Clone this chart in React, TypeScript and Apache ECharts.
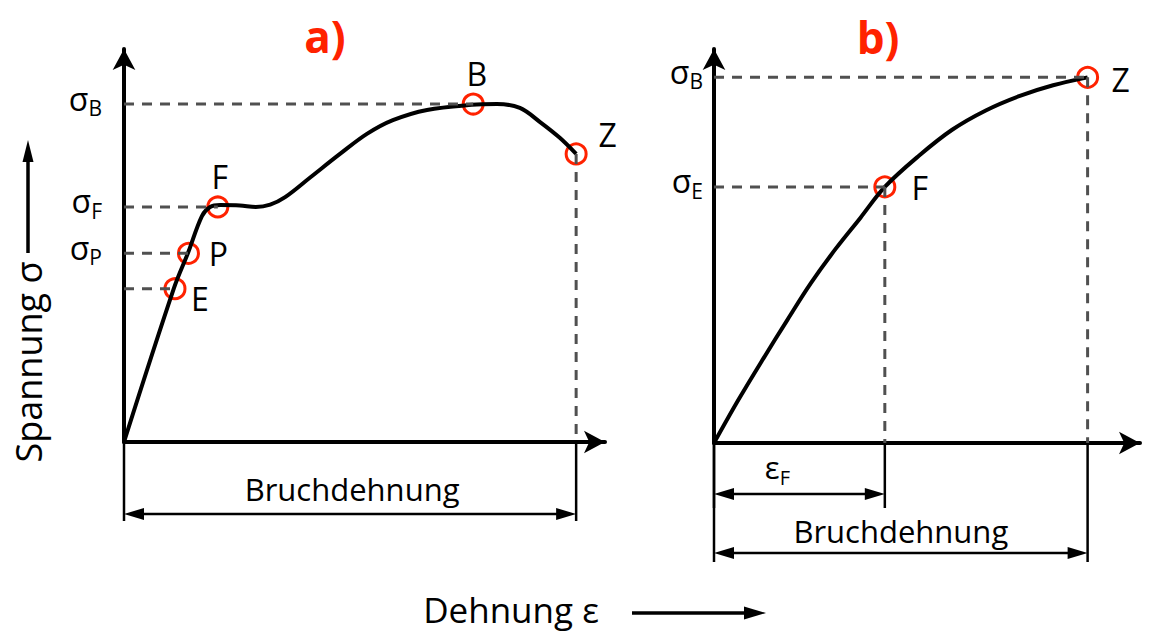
import React, { useEffect, useRef } from 'react';
import * as echarts from 'echarts';

const RED = '#ff2200';
const INK = '#000000';
const GUIDE = '#505050';
const FONT = '"Open Sans", "DejaVu Sans", sans-serif';

// a) Werkstoff mit ausgeprägter Streckgrenze (Dehnung / Spannung in relativen Einheiten)
const curveA: [number, number][] = [
  [0, 0], [10.4, 39.2], [13.3, 48.1], [16.2, 57.5], [17.9, 59.8], [20.0, 60.3],
  [24.1, 60.2], [27.4, 59.8], [30.4, 60.4], [33.5, 62.3], [38.7, 67.3], [44.9, 73.3],
  [50.5, 78.4], [55.9, 81.9], [63.0, 84.5], [72.3, 85.8], [77.5, 86.0], [82.3, 85.0],
  [86.5, 81.4], [90.6, 77.4], [94.0, 73.3],
];
const pointNamesA = ['E', 'P', 'F', 'B', 'Z'];
const pointValuesA: [number, number][] = [
  [10.6, 39.0], [13.4, 48.0], [19.5, 59.8], [72.6, 86.0], [94.0, 73.3],
];
const stressMarksA = [
  { sub: 'E', at: 'E' }, { sub: 'P', at: 'P' }, { sub: 'F', at: 'F' }, { sub: 'B', at: 'B' },
];
const dropLinesA = ['Z'];
const strainDimsA = [{ text: 'Bruchdehnung', to: 'Z' }];

// b) Werkstoff ohne ausgeprägte Streckgrenze
const curveB: [number, number][] = [
  [0, 0], [5.7, 10.9], [11.5, 21.3], [17.2, 31.2], [22.7, 40.5], [28.5, 49.2],
  [34.4, 57.2], [40.1, 65.0], [48.1, 72.9], [55.9, 79.5], [63.8, 84.4], [71.8, 88.1],
  [79.6, 90.8], [87.7, 92.8],
];
const pointNamesB = ['F', 'Z'];
const pointValuesB: [number, number][] = [[40.1, 65.0], [87.7, 92.8]];
const stressMarksB = [{ sub: 'E', at: 'F' }, { sub: 'B', at: 'Z' }];
const dropLinesB = ['F', 'Z'];
const strainDimsB = [{ text: 'ε|F', to: 'F' }, { text: 'Bruchdehnung', to: 'Z' }];

type Panel = {
  curve: [number, number][];
  names: string[];
  values: [number, number][];
  marks: { sub: string; at: string }[];
  drops: string[];
  dims: { text: string; to: string }[];
  dimLayout: { drop: number; tick: number; textDy: number; textDx: number }[];
  labelOffset: Record<string, [number, number]>;
  labelMargin: number;
};

const axisLine = {
  show: true,
  onZero: false,
  symbol: ['none', 'arrow'],
  symbolSize: [17, 21],
  lineStyle: { color: INK, width: 4 },
};

function dimText(text: string) {
  const parts = text.split('|');
  return parts.length > 1 ? `{m|${parts[0]}}{s|${parts[1]}}` : `{t|${text}}`;
}

function buildPanel(idx: number, p: Panel) {
  const at = (n: string) => p.values[p.names.indexOf(n)];
  const marks = p.marks.map((m) => ({ sub: m.sub, y: at(m.at)[1], x: at(m.at)[0] }));

  const xAxis = {
    gridIndex: idx, type: 'value', min: 0, max: 100,
    axisLine, axisTick: { show: false }, axisLabel: { show: false }, splitLine: { show: false },
  };
  const yAxis = {
    gridIndex: idx, type: 'value', min: 0, max: 100,
    axisLine, axisTick: { show: false }, splitLine: { show: false },
    axisLabel: {
      show: true,
      customValues: marks.map((m) => m.y),
      margin: p.labelMargin,
      padding: [0, 0, 12, 0],
      formatter: (v: number) => {
        const m = marks.find((k) => Math.abs(k.y - v) < 1e-6);
        return m ? `{s|σ}{sub|${m.sub}}` : '';
      },
      rich: {
        s: { fontFamily: FONT, fontSize: 32, color: INK, lineHeight: 40 },
        sub: { fontFamily: FONT, fontSize: 21, color: INK, lineHeight: 20, padding: [20, 0, 0, 0] },
      },
    },
  };

  const series: any[] = [];
  series.push({
    type: 'line', xAxisIndex: idx, yAxisIndex: idx, data: p.curve,
    smooth: 0.35, symbol: 'none', silent: true,
    lineStyle: { color: INK, width: 4 },
  });

  const guides: [number, number][][] = [
    ...marks.map((m) => [[0, m.y], [m.x, m.y]] as [number, number][]),
    ...p.drops.map((n) => [[at(n)[0], at(n)[1]], [at(n)[0], 0]] as [number, number][]),
  ];
  guides.forEach((g) => {
    series.push({
      type: 'line', xAxisIndex: idx, yAxisIndex: idx, data: g,
      symbol: 'none', silent: true,
      lineStyle: { color: GUIDE, width: 3, type: [10, 8] },
    });
  });

  series.push({
    type: 'custom', xAxisIndex: idx, yAxisIndex: idx, silent: true, clip: false,
    data: p.dims.map((d) => [0, at(d.to)[0], 0]),
    encode: { x: [0, 1], y: 2 },
    renderItem: (params: any, api: any) => {
      const lay = p.dimLayout[params.dataIndex];
      const text = p.dims[params.dataIndex].text;
      const a = api.coord([api.value(0), 0]);
      const b = api.coord([api.value(1), 0]);
      const y = a[1] + lay.drop;
      const yEnd = a[1] + lay.tick;
      const head = 20;
      const half = 6;
      const st = { stroke: INK, lineWidth: 2.5 };
      return {
        type: 'group',
        children: [
          { type: 'line', shape: { x1: a[0], y1: a[1], x2: a[0], y2: yEnd }, style: st },
          { type: 'line', shape: { x1: b[0], y1: b[1], x2: b[0], y2: yEnd }, style: st },
          { type: 'line', shape: { x1: a[0] + head - 2, y1: y, x2: b[0] - head + 2, y2: y }, style: st },
          { type: 'polygon', shape: { points: [[a[0], y], [a[0] + head, y - half], [a[0] + head, y + half]] }, style: { fill: INK } },
          { type: 'polygon', shape: { points: [[b[0], y], [b[0] - head, y - half], [b[0] - head, y + half]] }, style: { fill: INK } },
          {
            type: 'text',
            x: (a[0] + b[0]) / 2 + lay.textDx,
            y: a[1] + lay.textDy,
            style: {
              text: dimText(text),
              align: 'center', verticalAlign: 'middle',
              textAlign: 'center', textVerticalAlign: 'middle',
              rich: {
                t: { fontFamily: FONT, fontSize: 31, fill: INK, lineHeight: 36 },
                m: { fontFamily: FONT, fontSize: 31, fill: INK, lineHeight: 40 },
                s: { fontFamily: FONT, fontSize: 20, fill: INK, lineHeight: 20, padding: [20, 0, 0, 0] },
              },
            },
          },
        ],
      };
    },
  });

  series.push({
    type: 'scatter', xAxisIndex: idx, yAxisIndex: idx, silent: true,
    symbol: 'circle', symbolSize: 20,
    itemStyle: { color: 'rgba(0,0,0,0)', borderColor: RED, borderWidth: 3, opacity: 1 },
    label: {
      show: true, position: 'inside', formatter: '{b}',
      fontFamily: FONT, fontSize: 32, color: INK, textBorderWidth: 0,
    },
    data: p.names.map((n, i) => ({
      name: n, value: p.values[i], label: { offset: p.labelOffset[n] },
    })),
  });

  return { xAxis, yAxis, series };
}

export default function App() {
  const ref = useRef<HTMLDivElement>(null);

  useEffect(() => {
    if (!ref.current) return;
    const chart = echarts.init(ref.current, undefined, { renderer: 'svg' });

    const pa = buildPanel(0, {
      curve: curveA, names: pointNamesA, values: pointValuesA, marks: stressMarksA,
      drops: dropLinesA, dims: strainDimsA,
      dimLayout: [{ drop: 72, tick: 79, textDy: 47, textDx: 2 }],
      labelOffset: { E: [25, 10], P: [30, 0], F: [2, -30], B: [3.5, -31], Z: [31.5, -19.5] },
      labelMargin: 22,
    });
    const pb = buildPanel(1, {
      curve: curveB, names: pointNamesB, values: pointValuesB, marks: stressMarksB,
      drops: dropLinesB, dims: strainDimsB,
      dimLayout: [
        { drop: 51, tick: 65, textDy: 24, textDx: -22 },
        { drop: 110, tick: 119, textDy: 88, textDx: 0 },
      ],
      labelOffset: { F: [35, 1], Z: [33, 2] },
      labelMargin: 11,
    });

    const txt = (text: string, size: number, fill: string, weight = 'normal') => ({
      text, fill, fontFamily: FONT, fontSize: size, fontWeight: weight,
      align: 'center', verticalAlign: 'middle', textAlign: 'center', textVerticalAlign: 'middle',
    });

    chart.setOption({
      animation: false,
      backgroundColor: '#ffffff',
      grid: [
        { left: 124, top: 49, width: 481, height: 393 },
        { left: 714, top: 49, width: 426, height: 394 },
      ],
      xAxis: [pa.xAxis, pb.xAxis],
      yAxis: [pa.yAxis, pb.yAxis],
      series: [...pa.series, ...pb.series],
      graphic: [
        { type: 'text', x: 325, y: 36, style: txt('a)', 44, RED, 'bold') },
        { type: 'text', x: 878, y: 37, style: txt('b)', 44, RED, 'bold') },
        { type: 'text', x: 28, y: 362, rotation: Math.PI / 2, style: txt('Spannung σ', 36, INK) },
        { type: 'line', shape: { x1: 28, y1: 253, x2: 28, y2: 158 }, style: { stroke: INK, lineWidth: 3.5 } },
        { type: 'polygon', shape: { points: [[28, 140], [22.5, 162], [33.5, 162]] }, style: { fill: INK } },
        { type: 'text', x: 511, y: 609, style: txt('Dehnung ε', 35, INK) },
        { type: 'line', shape: { x1: 632, y1: 613, x2: 748, y2: 613 }, style: { stroke: INK, lineWidth: 3.5 } },
        { type: 'polygon', shape: { points: [[766, 613], [744, 606.5], [744, 619.5]] }, style: { fill: INK } },
      ],
    });

    return () => chart.dispose();
  }, []);

  return (
    <div
      ref={ref}
      style={{ position: 'absolute', left: 0, top: 0, width: 1153, height: 633, background: '#fff' }}
    />
  );
}
